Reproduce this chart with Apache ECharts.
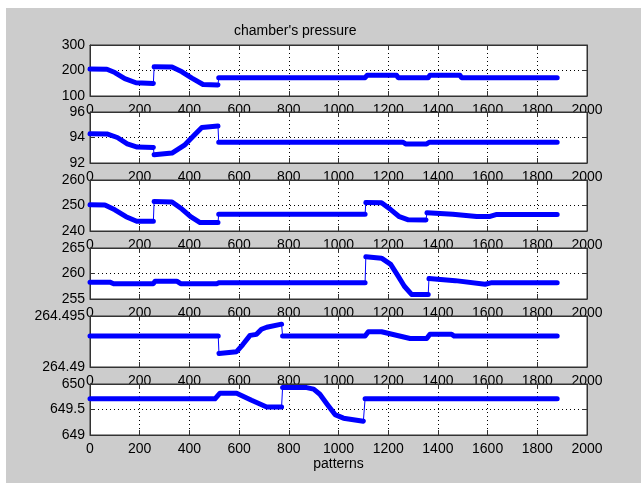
<!DOCTYPE html>
<html>
<head>
<meta charset="utf-8">
<script src="https://cdn.jsdelivr.net/npm/echarts@6/dist/echarts.min.js"></script>
<style>
  html, body { margin: 0; padding: 0; background: #ffffff; }
  #chart { width: 641px; height: 484px; }
</style>
</head>
<body>
<div id="chart"></div>
<script>
// Six pressure channels sampled over ~1880 patterns.
// Each list holds [pattern, value] breakpoints; null marks a step change.
const pressure1 = [
  [0, 206], [68, 205], [100, 192], [140, 168], [185, 152], [255, 149], null,
  [258, 215], [330, 214], [370, 195], [410, 170], [455, 145], [515, 143], null,
  [518, 172], [1107, 172], [1115, 181], [1234, 181], [1240, 172], [1361, 172],
  [1368, 181], [1489, 181], [1495, 172], [1880, 172]
];
const pressure2 = [
  [0, 94.3], [68, 94.28], [110, 94.0], [150, 93.5], [190, 93.25], [255, 93.22], null,
  [258, 92.64], [330, 92.78], [380, 93.4], [420, 94.2], [450, 94.79], [515, 94.9], null,
  [518, 93.63], [1260, 93.63], [1270, 93.5], [1355, 93.5], [1365, 93.63], [1880, 93.63]
];
const pressure3 = [
  [0, 250.3], [60, 250.2], [100, 248.3], [145, 245.6], [188, 243.8], [255, 243.8], null,
  [258, 251.6], [330, 251.4], [370, 248.6], [405, 245.6], [443, 243.3], [515, 243.3], null,
  [518, 246.6], [1107, 246.6], null,
  [1110, 251.2], [1173, 251.1], [1210, 248.4], [1245, 245.6], [1281, 244.4], [1352, 244.3], null,
  [1356, 247.2], [1460, 246.6], [1556, 245.7], [1610, 245.7], [1637, 246.5], [1880, 246.5]
];
const pressure4 = [
  [0, 258.3], [80, 258.3], [95, 258.0], [255, 258.0], [262, 258.5], [349, 258.5],
  [365, 258.0], [510, 258.0], [520, 258.2], [1107, 258.2], null,
  [1110, 263.3], [1173, 263.0], [1210, 261.8], [1240, 259.5], [1265, 257.5], [1294, 255.9],
  [1361, 255.9], null,
  [1364, 259.0], [1470, 258.6], [1590, 257.9], [1617, 258.2], [1880, 258.2]
];
const pressure5 = [
  [0, 264.49303], [516, 264.49303], null,
  [519, 264.49132], [590, 264.4915], [615, 264.4922], [644, 264.4931], [670, 264.4932],
  [690, 264.4937], [711, 264.4939], [771, 264.4942], null,
  [775, 264.49303], [1107, 264.49303], [1120, 264.49345], [1173, 264.49345],
  [1288, 264.4928], [1355, 264.4928], [1368, 264.49322], [1455, 264.49322],
  [1465, 264.49303], [1880, 264.49303]
];
const pressure6 = [
  [0, 649.71], [503, 649.71], [523, 649.82], [590, 649.82], [650, 649.68], [711, 649.55],
  [771, 649.55], null,
  [775, 649.93], [872, 649.93], [900, 649.9], [925, 649.8], [955, 649.6], [986, 649.4],
  [1020, 649.33], [1100, 649.27], null,
  [1107, 649.71], [1880, 649.71]
];

const channels = [pressure1, pressure2, pressure3, pressure4, pressure5, pressure6];

// Y-axis range and tick step of each panel
const yMin  = [100, 92, 240, 255, 264.49, 649];
const yMax  = [300, 96, 260, 265, 264.495, 650];
const yStep = [100, 2, 10, 5, 0.005, 0.5];

// X-axis (pattern index) range shared by all panels
const xMin = 0, xMax = 2000, xStep = 200;

const titleText = "chamber's pressure";
const xName = 'patterns';

// ---- layout / style ----
const FONT = "'Liberation Sans', Arial, Helvetica, sans-serif";
const PLOT_LEFT = 90, PLOT_WIDTH = 497, PLOT_HEIGHT = 51;
const PLOT_TOPS = [45, 112, 180, 248, 316, 384];
const AXIS_COLOR = '#333333';
const LINE_BLUE = '#0000ff';

const grids = [], xAxes = [], yAxes = [], series = [];

channels.forEach((data, k) => {
  // each panel is stacked above the previous one, so its white face
  // hides the lower part of the tick labels of the panel above
  const zBase = 10 * k;
  const last = k === channels.length - 1;

  grids.push({
    left: PLOT_LEFT, top: PLOT_TOPS[k], width: PLOT_WIDTH, height: PLOT_HEIGHT,
    show: true, backgroundColor: '#ffffff', borderColor: AXIS_COLOR, borderWidth: 1,
    z: zBase + 1
  });

  const tickStyle = { inside: true, length: 5, lineStyle: { color: AXIS_COLOR } };
  const dotted = { show: true, lineStyle: { color: '#000000', type: [1, 3], width: 1 } };

  // bottom axis with labels
  xAxes.push({
    gridIndex: k, type: 'value', position: 'bottom', min: xMin, max: xMax, interval: xStep,
    z: zBase + 2,
    axisLine: { show: true, onZero: false, lineStyle: { color: AXIS_COLOR } },
    axisTick: tickStyle,
    axisLabel: {
      color: '#000', fontSize: 14, fontFamily: FONT, margin: 7,
      formatter: v => String(v)
    },
    splitLine: dotted,
    name: last ? xName : '',
    nameLocation: 'middle', nameGap: 21,
    nameTextStyle: { color: '#000', fontSize: 14, fontFamily: FONT }
  });
  // top edge of the box
  xAxes.push({
    gridIndex: k, type: 'value', position: 'top', min: xMin, max: xMax, interval: xStep,
    z: zBase + 2,
    axisLine: { show: true, onZero: false, lineStyle: { color: AXIS_COLOR } },
    axisTick: tickStyle, axisLabel: { show: false }, splitLine: { show: false }
  });

  yAxes.push({
    gridIndex: k, type: 'value', position: 'left', min: yMin[k], max: yMax[k], interval: yStep[k],
    z: zBase + 2,
    axisLine: { show: true, onZero: false, lineStyle: { color: AXIS_COLOR } },
    axisTick: tickStyle,
    axisLabel: {
      color: '#000', fontSize: 14, fontFamily: FONT, margin: 5,
      formatter: v => String(+v.toFixed(4))
    },
    splitLine: dotted
  });
  yAxes.push({
    gridIndex: k, type: 'value', position: 'right', min: yMin[k], max: yMax[k], interval: yStep[k],
    z: zBase + 2,
    axisLine: { show: true, onZero: false, lineStyle: { color: AXIS_COLOR } },
    axisTick: tickStyle, axisLabel: { show: false }, splitLine: { show: false }
  });

  // thin trace joining every step
  series.push({
    type: 'line', xAxisIndex: 2 * k, yAxisIndex: 2 * k,
    data: data.filter(p => p !== null),
    symbol: 'none', clip: false, silent: true, z: zBase + 3,
    lineStyle: { color: LINE_BLUE, width: 1 }
  });
  // heavy trace, broken at the steps
  series.push({
    type: 'line', xAxisIndex: 2 * k, yAxisIndex: 2 * k,
    data: data.map(p => (p === null ? [null, null] : p)),
    connectNulls: false,
    symbol: 'none', clip: false, silent: true, z: zBase + 3,
    lineStyle: { color: LINE_BLUE, width: 5, cap: 'round', join: 'round' }
  });
});

const chart = echarts.init(document.getElementById('chart'), null, { renderer: 'canvas' });
chart.setOption({
  backgroundColor: '#ffffff',
  animation: false,
  textStyle: { fontFamily: FONT },
  graphic: [{
    type: 'rect', z: 0, silent: true,
    shape: { x: 6, y: 8, width: 635, height: 475 },
    style: { fill: '#cccccc' }
  }],
  title: {
    text: titleText, left: 229, top: 19, z: 80,
    textStyle: { color: '#000', fontSize: 14, fontWeight: 'normal', fontFamily: FONT }
  },
  grid: grids,
  xAxis: xAxes,
  yAxis: yAxes,
  series: series
});
</script>
</body>
</html>
